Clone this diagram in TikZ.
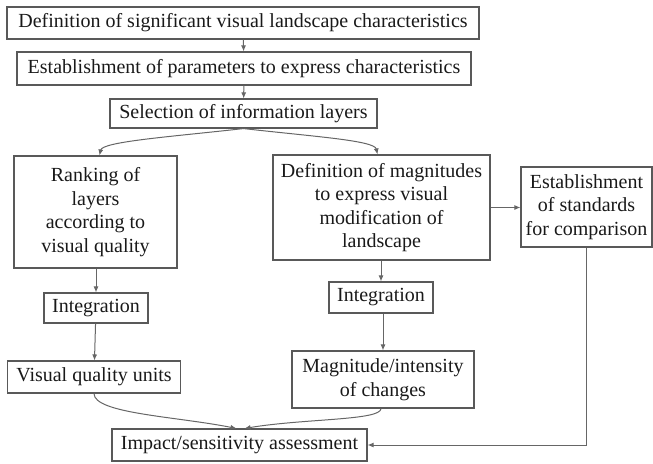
\documentclass[tikz,border=0pt]{standalone}
\usepackage{fontspec}
\setmainfont{Liberation Serif}
\usetikzlibrary{arrows.meta}
\begin{document}
\begin{tikzpicture}[x=1pt, y=-1pt,
                    every node/.style={draw=black!65, line width=1.1pt, align=center, inner sep=2pt,
                                       font=\fontsize{20}{23.5}\selectfont, text=black!90},
                    link/.style={draw=black!60, line width=1pt, -{Latex[length=6pt,width=5pt]}}
                    ]
                    \useasboundingbox (0,0) rectangle (653,463);
                    \node (def) at (243,23) [minimum width=472pt, minimum height=32pt] {Definition of significant visual landscape characteristics};
                    \node (est) at (244,68.5) [minimum width=454pt, minimum height=33pt] {Establishment of parameters to express characteristics};
                    \node (sel) at (243.5,113.5) [minimum width=267pt, minimum height=29pt] {Selection of information layers};
                    \node (rank) at (95.5,212) [minimum width=163pt, minimum height=112pt] {Ranking of\\layers\\according to\\visual quality};
                    \node (mag) at (381.5,207.5) [minimum width=217pt, minimum height=105pt] {Definition of magnitudes\\to express visual\\modification of\\landscape};
                    \node (std) at (586.5,207) [minimum width=131pt, minimum height=80pt, inner sep=1pt] {Establishment\\of standards\\for comparison};
                    \node (intL) at (96,308) [minimum width=104pt, minimum height=30pt] {Integration};
                    \node (intR) at (381,297.5) [minimum width=104pt, minimum height=31pt] {Integration};
                    \node (vqu) at (94,377) [minimum width=173pt, minimum height=32pt] {Visual quality units};
                    \node (chg) at (383,379.5) [minimum width=182pt, minimum height=57pt] {Magnitude/intensity\\of changes};
                    \node (imp) at (239.5,445) [minimum width=255pt, minimum height=32pt] {Impact/sensitivity assessment};

                    \foreach \i/\j in {def/est,est/sel,intL/vqu}{
                        \draw[link] (\i) -- (\j);
                    }
                    \draw[link] (rank.south -| intL) -- (intL);
                    \draw[link] (mag.south -| intR) -- (intR);
                    \draw[link] (intR.south -| chg) -- (chg);
                    \draw[link] (mag.east) -- (std.west |- mag.east);
                    \draw[link] (sel.south) .. controls +(-70,8) and +(3,-14) .. ([xshift=4pt]rank.north);
                    \draw[link] (sel.south) .. controls +(70,8) and +(-3,-14) .. ([xshift=-4pt]mag.north);
                    \draw[link] (vqu.south) .. controls +(0,20) and +(-60,-12) .. ([xshift=-3pt]imp.north);
                    \draw[link] ([xshift=-2pt]chg.south) .. controls +(0,12) and +(60,-10) .. ([xshift=5pt]imp.north);
                    \draw[link] (std.south) |- (imp.east);
                \end{tikzpicture}
\end{document}
